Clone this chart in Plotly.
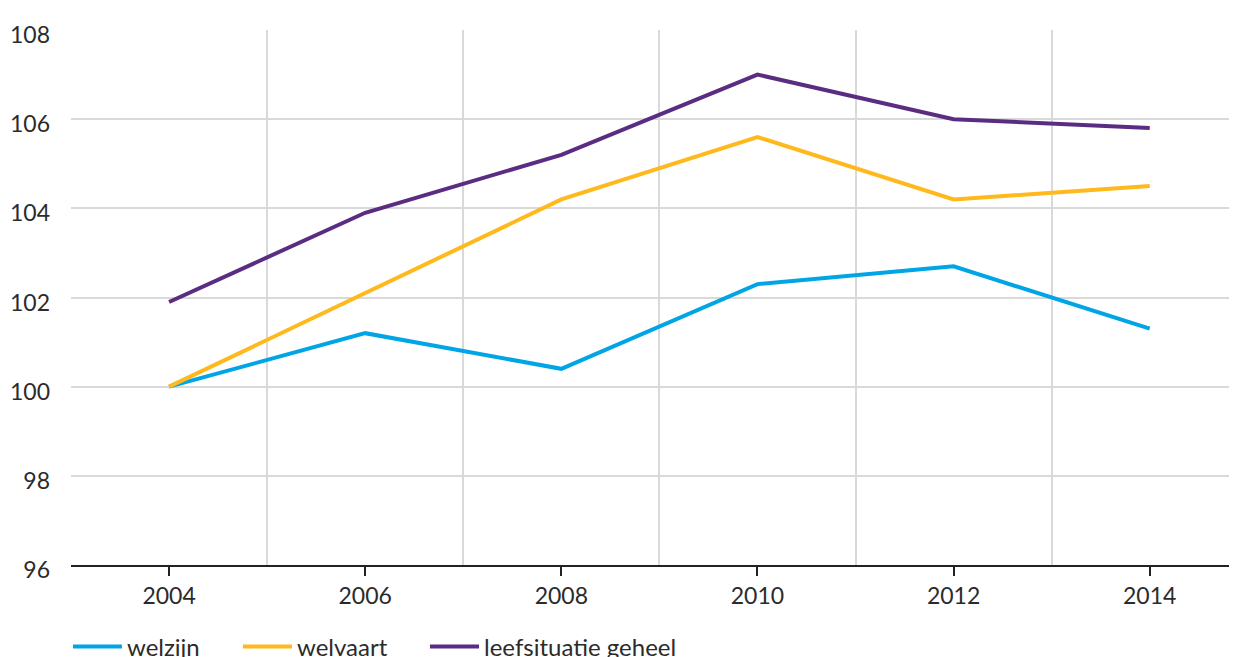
import plotly.graph_objects as go

years = [2004, 2006, 2008, 2010, 2012, 2014]
welzijn = [100.0, 101.2, 100.4, 102.3, 102.7, 101.3]
welvaart = [100.0, 102.1, 104.2, 105.6, 104.2, 104.5]
leefsituatie = [101.9, 103.9, 105.2, 107.0, 106.0, 105.8]

series_names = ["welzijn", "welvaart", "leefsituatie geheel"]
series_colors = ["#00a5e6", "#ffb91c", "#5b2d82"]
legend_ids = ["legend", "legend2", "legend3"]
legend_x = [0.0488, 0.1871, 0.3393]
y_ticks = [96, 98, 100, 102, 104, 106, 108]

fig = go.Figure()
for name, vals, col, lg in zip(series_names, [welzijn, welvaart, leefsituatie], series_colors, legend_ids):
    fig.add_trace(go.Scatter(x=years, y=vals, name=name, mode="lines", legend=lg,
                             line=dict(color=col, width=4)))

font_family = "Lato, 'Open Sans', sans-serif"
legend_style = dict(orientation="h", xref="container", yref="container", xanchor="left",
                    y=0.0154, yanchor="middle", font=dict(size=24, color="#2b2b2b"),
                    itemwidth=49, bgcolor="rgba(0,0,0,0)")
layout_legends = {lg: dict(x=lx, **legend_style) for lg, lx in zip(legend_ids, legend_x)}

# page body has an 8px default margin, so the figure is sized to fit the 1237x657 window
fig.update_layout(
    width=1229, height=649,
    margin=dict(l=63, r=0, t=22, b=92),
    plot_bgcolor="white", paper_bgcolor="white",
    font=dict(family=font_family, size=23, color="#2b2b2b"),
    showlegend=True,
    **layout_legends,
    xaxis=dict(
        range=[2003, 2014.89], tickvals=years, ticktext=[str(y) for y in years],
        showgrid=False, zeroline=False, automargin=False,
        showline=True, linecolor="#222222", linewidth=2,
        ticks="outside", ticklen=9, tickwidth=2, tickcolor="#222222",
        tickfont=dict(size=23, color="#2b2b2b"),
        minor=dict(tick0=2003, dtick=2, showgrid=True, gridcolor="#d9d9d9", gridwidth=2, ticks=""),
    ),
    yaxis=dict(
        range=[96, 108], tickvals=y_ticks, automargin=False,
        showgrid=True, gridcolor="#d9d9d9", gridwidth=2, zeroline=False,
        showline=False, ticks="",
        ticklabelstandoff=20, ticklabelshift=5,
        tickfont=dict(size=23, color="#2b2b2b"),
    ),
)
fig.write_html("out.html")
